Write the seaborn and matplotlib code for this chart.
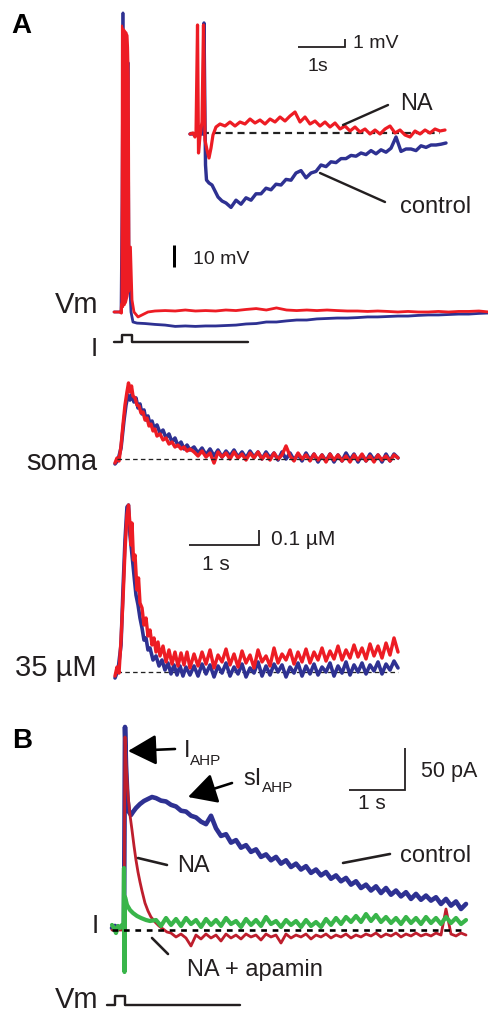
import numpy as np
import matplotlib
matplotlib.use("Agg")
import matplotlib.pyplot as plt
import seaborn as sns

# ------------------------------------------------------------------ data
# Panel A, somatic Vm (time s, mV relative to rest); fast part + slow tail
vm_na_fast_t = [-0.014, 0.071, 0.086, 0.092, 0.19, 0.198, 0.221, 0.243, 0.271, 0.329, 0.386, 0.471]
vm_na_fast_v = [-0.45, -0.45, -0.9, 3, 9, 9.5, 29.1, 5, -0.45, -2.7, -1.8, -0.45]
# burst of action potentials (NA): envelope of spike peaks and troughs
vm_na_burst_t = [0.086, 0.092, 0.1, 0.108, 0.116, 0.124, 0.132, 0.14, 0.148, 0.156, 0.164, 0.172, 0.18, 0.19, 0.198]
vm_na_burst_peak = [20, 130, 129, 128.6, 128.2, 128, 127.7, 127.3, 127, 126.8, 126, 125.5, 120, 105, 30]
vm_na_burst_trough = [-0.9, 2, 2, 2, 3, 3, 3, 4, 4, 5, 6, 7, 9, 9, 9.5]
vm_na_slow_v = [0, 0.2, 0, 0.45, 0, 0.2, 0, 0.45, 0.2, 0.7, 1.1, 0.45, 1.4, 0.45, 0.2, 0.45, 0.2,
                0.45, 0.2, 0, 0, -0.2, 0, -0.2, -0.45, -0.2, -0.45, -0.45, -0.2, -0.45, -0.2, -0.2, 0, -0.45]
vm_ctrl_fast_t = [-0.014, 0.086, 0.1, 0.114, 0.129, 0.15, 0.164, 0.186, 0.2, 0.214, 0.229, 0.257, 0.314, 0.429]
vm_ctrl_fast_v = [-0.45, -0.45, 50, 135.5, 50.5, 122, 41, 113, 23, 9.5, -0.5, -5, -5.5, -5.7]
vm_ctrl_slow_v = [-6.1, -6.4, -7.0, -6.8, -7.0, -6.8, -6.8, -6.6, -6.4, -5.9, -5.7, -5.0, -5.0, -4.5,
                  -4.1, -4.1, -3.6, -3.4, -3.2, -3.2, -3.0, -2.7, -2.7, -2.5, -2.3, -2.3, -2.0, -1.8,
                  -1.8, -1.6, -1.4, -1.4, -1.1, -0.9]
vm_slow_span = (0.571, 5.343)

# current step (A)
step_a_t = [-0.014, 0.1, 0.1, 0.243, 0.243, 1.9]
step_a_i = [0, 0, 1, 1, 0, 0]

# Inset (time s, mV)
ins_na_fast_t = [0, 0.064, 0.106, 0.128, 0.16, 0.181, 0.213, 0.255, 0.287, 0.319, 0.362, 0.404,
                 0.447, 0.489, 0.553, 0.638]
ins_na_fast_v = [-0.125, 0, -0.5, 0, 13.5, -2.5, -0.375, 1.375, 13.5, -0.875, -2.125, -3.125,
                 -1.875, -0.25, 0.75, 1.125]
ins_na_slow_v = [0.875, 1.375, 0.875, 1.375, 1.125, 1.75, 1.25, 1.625, 1.125, 1.75, 1.375, 2.0, 1.5,
                 2.125, 2.625, 1.375, 2.0, 1.125, 1.5, 0.875, 1.375, 0.75, 1.25, 0.5, 0.875, 0.25, 0.75,
                 0.125, 0.5, -0.125, 0.375, -0.125, 0.5, 0.875, 0, 0.375, -0.25, -0.5, 0.25, -0.125,
                 0.375, 0, 0.5, 0.25, 0.375]
ins_na_slow_span = (0.745, 5.426)
ins_ctrl_fast_t = [0, 0.213, 0.277, 0.298, 0.319, 0.33, 0.351, 0.404, 0.468, 0.532, 0.596, 0.681]
ins_ctrl_fast_v = [-0.125, -0.125, -0.125, 13.75, 1.625, -4, -5.875, -6.25, -6.5, -7.25, -8, -8.5]
ins_ctrl_slow_v = [-8.75, -9.3, -8.4, -8.9, -8.1, -8.4, -7.6, -7.6, -6.9, -7.1, -6.4, -6.5, -5.8, -5.9,
                   -5.0, -4.7, -5.6, -5.0, -4.8, -4.0, -4.2, -3.6, -3.7, -3.2, -3.2, -2.8, -2.9, -2.5,
                   -2.7, -2.2, -2.6, -2.1, -2.4, -1.9, -0.5, -2.3, -2.0, -2.0, -2.2, -1.6, -1.8, -1.5,
                   -1.5, -1.4, -1.25]
ins_ctrl_slow_span = (0.766, 5.447)

# Ca2+ transients (time s, delta uM)
soma_na_fast_t = [0, 0.029, 0.057, 0.086, 0.114, 0.143, 0.171, 0.193, 0.214, 0.236, 0.257, 0.286,
                  0.314, 0.343, 0.371, 0.4, 0.429, 0.457, 0.486, 0.514, 0.543, 0.571, 0.6, 0.643,
                  0.686, 0.729, 0.771, 0.814, 0.857, 0.9, 0.943, 0.986, 1.029, 1.071]
soma_na_fast_c = [-0.027, 0.007, -0.013, 0.087, 0.227, 0.36, 0.447, 0.507, 0.447, 0.487, 0.42, 0.407,
                  0.36, 0.353, 0.307, 0.313, 0.26, 0.273, 0.22, 0.233, 0.187, 0.2, 0.153, 0.167,
                  0.127, 0.14, 0.1, 0.113, 0.08, 0.093, 0.067, 0.08, 0.053, 0.067]
soma_na_slow_c = [0.047, 0.02, 0.053, 0.013, 0.04, -0.027, 0.047, 0.013, 0.04, 0, 0.047, 0.007, 0.033,
                  -0.007, 0.04, 0.007, 0.047, 0, 0.033, -0.007, 0.04, 0, 0.027, 0.087, 0.02, -0.013,
                  0.04, 0, 0.027, -0.013, 0.033, -0.007, 0.027, -0.02, 0.033, -0.007, 0.027, -0.013,
                  0.02, -0.02, 0.027, -0.007, 0.033, -0.013, 0.02, -0.02, 0.027, -0.007, 0.02, -0.013,
                  0.027, 0.007]
soma_ctrl_fast_t = [0, 0.043, 0.086, 0.129, 0.157, 0.186, 0.214, 0.243, 0.271, 0.3, 0.329, 0.357,
                    0.386, 0.414, 0.443, 0.471, 0.5, 0.529, 0.557, 0.6, 0.643, 0.686, 0.729, 0.771,
                    0.814, 0.857, 0.9, 0.943, 0.986, 1.029, 1.071]
soma_ctrl_fast_c = [-0.033, -0.007, 0.073, 0.26, 0.36, 0.427, 0.393, 0.433, 0.38, 0.407, 0.34, 0.367,
                    0.3, 0.327, 0.26, 0.287, 0.233, 0.253, 0.207, 0.227, 0.173, 0.193, 0.14, 0.167,
                    0.113, 0.14, 0.087, 0.113, 0.067, 0.093, 0.06]
soma_ctrl_slow_c = [0.08, 0.04, 0.073, 0.027, 0.067, 0.02, 0.06, 0.013, 0.053, 0.02, 0.06, 0.013,
                    0.047, 0.007, 0.053, 0.013, 0.047, 0, 0.047, 0.007, 0.04, -0.007, 0.047, 0, 0.04,
                    -0.007, 0.033, -0.013, 0.04, -0.007, 0.033, -0.02, 0.027, -0.013, 0.033, -0.02,
                    0.027, -0.013, 0.04, -0.007, 0.033, -0.02, 0.027, -0.013, 0.033, -0.007, 0.027,
                    -0.02, 0.033, -0.013, 0.033, 0.007]
d35_na_fast_t = [0, 0.029, 0.057, 0.086, 0.114, 0.143, 0.171, 0.193, 0.214, 0.229, 0.243, 0.264,
                 0.286, 0.314, 0.336, 0.357, 0.386, 0.414, 0.443, 0.471, 0.5, 0.529, 0.557, 0.586,
                 0.614, 0.643, 0.686, 0.729, 0.771, 0.814, 0.857, 0.9, 0.943, 0.986, 1.029, 1.071]
d35_na_fast_c = [-0.027, 0.033, -0.007, 0.213, 0.48, 0.813, 1.047, 1.113, 0.98, 0.847, 0.993, 0.747,
                 0.78, 0.547, 0.627, 0.46, 0.427, 0.313, 0.36, 0.24, 0.28, 0.18, 0.227, 0.133, 0.2,
                 0.107, 0.173, 0.067, 0.147, 0.053, 0.133, 0.04, 0.127, 0.047, 0.133, 0.027]
d35_na_slow_c = [0.12, 0.04, 0.133, 0.053, 0.147, 0.027, 0.113, 0.067, 0.153, 0.047, 0.12, 0.033,
                 0.14, 0.06, 0.113, 0.027, 0.147, 0.067, 0.107, 0.04, 0.16, 0.06, 0.12, 0.08, 0.147,
                 0.053, 0.133, 0.067, 0.153, 0.06, 0.133, 0.08, 0.16, 0.073, 0.14, 0.087, 0.173, 0.08,
                 0.147, 0.093, 0.18, 0.1, 0.16, 0.087, 0.187, 0.107, 0.173, 0.093, 0.193, 0.113,
                 0.227, 0.133]
d35_ctrl_fast_t = [0, 0.043, 0.086, 0.114, 0.143, 0.171, 0.193, 0.214, 0.243, 0.271, 0.3, 0.329,
                   0.357, 0.386, 0.414, 0.443, 0.471, 0.5, 0.543, 0.586, 0.629, 0.671, 0.714, 0.757,
                   0.8, 0.843, 0.886, 0.929, 0.971, 1.014, 1.071]
d35_ctrl_fast_c = [-0.04, 0.013, 0.18, 0.547, 0.88, 1.1, 1.113, 0.913, 0.78, 0.647, 0.513, 0.447,
                   0.36, 0.293, 0.213, 0.227, 0.147, 0.16, 0.08, 0.107, 0.04, 0.08, 0.013, 0.06,
                   -0.013, 0.047, -0.02, 0.04, -0.027, 0.033, -0.02]
d35_ctrl_slow_c = [0.04, -0.027, 0.053, -0.013, 0.047, -0.033, 0.04, -0.007, 0.06, -0.027, 0.033,
                   -0.013, 0.053, -0.033, 0.027, -0.007, 0.067, -0.027, 0.04, -0.02, 0.053, 0, 0.047,
                   -0.033, 0.033, -0.007, 0.06, -0.027, 0.04, -0.013, 0.053, -0.02, 0.033, 0, 0.06,
                   -0.027, 0.04, -0.007, 0.067, -0.02, 0.047, 0, 0.06, -0.013, 0.047, 0.007, 0.067,
                   -0.013, 0.053, 0.013, 0.073, 0.027]
ca_slow_span = (1.129, 4.043)

# Panel B, currents (time s, pA)
b_ctrl_fast_t = [-0.232, -0.179, -0.125, -0.071, -0.018, 0, 0.018, 0.045, 0.071, 0.107, 0.143,
                 0.196, 0.268, 0.339, 0.411, 0.482]
b_ctrl_fast_i = [2.4, 4.8, 1.2, 3.6, 2.4, 241.7, 196.4, 154.8, 140.5, 136.9, 140.5, 145.2, 150,
                 153.6, 156, 158.3]
b_ctrl_slow_i = [157, 154, 153, 149, 147, 142, 141, 136, 134, 129, 126, 136, 121, 112, 114, 104, 107,
                 98, 101, 93, 96, 87, 90, 83, 87, 79, 83, 75, 79, 72, 76, 68, 72, 65, 69, 61, 65, 58,
                 62, 54, 58, 50, 54, 47, 52, 44, 50, 42, 47, 40, 45, 37, 43, 36, 41, 35, 39, 31, 37,
                 29, 34, 25, 31]
b_ctrl_slow_span = (0.554, 6.089)
b_na_fast_t = [-0.232, -0.018, 0, 0.018, 0.036, 0.054, 0.089, 0.125, 0.161, 0.196, 0.232, 0.268,
               0.304, 0.357, 0.411, 0.464, 0.536, 0.607, 0.679, 0.75]
b_na_fast_i = [0, 0, 229.8, 200, 178.6, 160.7, 136.9, 119, 100, 83.3, 69, 57.1, 46.4, 32.1, 22.6,
               15.5, 9.5, 4.8, 1.2, -2.4]
b_na_slow_i = [-3.6, -8.3, -4.8, -9.5, -19.0, -6.0, -10.7, -4.8, -9.5, -6.0, -13.1, -4.8, -9.5, -6.0,
               -10.7, -4.8, -8.3, -6.0, -11.9, -4.8, -8.3, -6.0, -15.5, -4.8, -9.5, -6.0, -8.3, -4.8,
               -10.7, -6.0, -8.3, -4.8, -9.5, -6.0, -8.3, -4.8, -9.5, -6.0, -8.3, -4.8, -7.1, -3.6,
               -8.3, -4.8, -7.1, -3.6, -8.3, -4.8, -7.1, -3.6, -7.1, -4.8, -7.1, -3.6, -6.0, 25.0,
               -4.8, -7.1, -3.6, -6.0]
b_na_slow_span = (0.821, 6.089)
b_apa_fast_t = [-0.232, -0.196, -0.161, -0.125, -0.089, -0.054, -0.027, -0.018, -0.009, 0, 0.036,
                0.089, 0.143, 0.214, 0.286, 0.375, 0.446]
b_apa_fast_i = [6.0, 2.4, -3.6, 4.8, 2.4, 6.0, 4.8, 73.8, -50, 39.3, 29.8, 23.8, 20.2, 16.7, 14.3,
                11.9, 10.7]
b_apa_slow_i = [11.9, 4.8, 14.3, 6.0, 13.1, 4.8, 14.3, 7.1, 11.9, 3.6, 13.1, 6.0, 11.9, 4.8, 14.3,
                7.1, 10.7, 3.6, 13.1, 6.0, 11.9, 4.8, 15.5, 7.1, 10.7, 3.6, 11.9, 6.0, 10.7, 3.6, 11.9,
                4.8, 9.5, 3.6, 13.1, 6.0, 14.3, 7.1, 15.5, 9.5, 16.7, 9.5, 19.0, 10.7, 17.9, 9.5, 15.5,
                8.3, 14.3, 7.1, 15.5, 8.3, 14.3, 7.1, 15.5, 8.3, 14.3, 7.1, 15.5, 8.3, 14.3, 7.1, 11.9]
b_apa_slow_span = (0.554, 6.089)

# voltage step (B)
step_b_t = [-0.321, -0.179, -0.179, -0.0, -0.0, 2.054]
step_b_v = [0, 0, 1, 1, 0, 0]

# scale bars: (time, amplitude)
scale_vm = 10            # mV
scale_inset = (1, 1)     # s, mV
scale_ca = (1, 0.1)      # s, uM
scale_b = (1, 50)        # s, pA

# ------------------------------------------------------------------ style
sns.set_theme(style="white")
plt.rcParams['font.family'] = ['Liberation Sans', 'DejaVu Sans']
plt.rcParams['path.simplify'] = False
W, H = 489, 1014
BLUE, RED, DKRED, GREEN, INK = '#2e3192', '#ed1c24', '#be1e2d', '#39b54a', '#231f20'
PX = 0.72  # points per pixel

fig = plt.figure(figsize=(W / 100, H / 100), dpi=100)


def px_axes(x0, y0, x1, y1, ox, oy, sx, sy):
    ax = fig.add_axes([x0 / W, 1 - y1 / H, (x1 - x0) / W, (y1 - y0) / H])
    ax.set_xlim((x0 - ox) / sx, (x1 - ox) / sx)
    ax.set_ylim((oy - y1) / sy, (oy - y0) / sy)
    ax.set_axis_off()
    ax.patch.set_alpha(0)
    return ax


def trace(ax, ft, fv, span, sv, color, lw):
    t = np.concatenate([ft, np.linspace(span[0], span[1], len(sv))])
    v = np.concatenate([fv, sv])
    sns.lineplot(x=t, y=v, ax=ax, color=color, linewidth=lw * PX, estimator=None,
                 sort=False, legend=False)
    ax.lines[-1].set_clip_on(False)
    ax.lines[-1].set_solid_joinstyle('round')
    return t


def step(ax, t, v, lw=2.4):
    sns.lineplot(x=t, y=v, ax=ax, color=INK, linewidth=lw * PX, estimator=None, sort=False,
                 legend=False)
    ax.lines[-1].set_clip_on(False)


def bar(ax, x, y, dx, dy, lw=1.8):
    ax.plot([x, x + dx, x + dx], [y, y, y + dy], color=INK, lw=lw * PX, clip_on=False,
            solid_capstyle='butt', solid_joinstyle='miter')


def ftext(x, y, s, **kw):
    kw.setdefault('color', INK)
    fig.text(x / W, 1 - y / H, s, **kw)


# ------------------------------------------------------------------ panel A: Vm
ax_vm = px_axes(100, 0, 489, 360, 115, 311, 70, 2.2)
trace(ax_vm, vm_ctrl_fast_t, vm_ctrl_fast_v, vm_slow_span, vm_ctrl_slow_v, BLUE, 2.8)
trace(ax_vm, vm_na_fast_t, vm_na_fast_v, vm_slow_span, vm_na_slow_v, RED, 2.8)
ax_vm.fill_between(vm_na_burst_t, vm_na_burst_trough, vm_na_burst_peak, color=RED, lw=2.0 * PX,
                   edgecolor=RED, zorder=3, clip_on=False)
ax_vm.plot([0.843, 0.843], [20, 20 + scale_vm], color='black', lw=3 * PX, solid_capstyle='butt')
ax_vm.text(1.114, 21.4, '10 mV', fontsize=14, color=INK, va='baseline', ha='left')

ax_ia = px_axes(100, 325, 260, 352, 115, 342, 70, 7)
step(ax_ia, step_a_t, step_a_i)

# inset
ax_in = px_axes(185, 0, 489, 230, 190, 133, 47, 8)
tin = trace(ax_in, ins_ctrl_fast_t, ins_ctrl_fast_v, ins_ctrl_slow_span, ins_ctrl_slow_v, BLUE, 3.4)
trace(ax_in, ins_na_fast_t, ins_na_fast_v, ins_na_slow_span, ins_na_slow_v, RED, 3.2)
ax_in.hlines(0, tin.min(), 5.32, colors='#222222', linestyles=(0, (3.2, 2.2)), lw=2.2 * PX, zorder=1.5)
bar(ax_in, 2.298, 10.75, scale_inset[0], scale_inset[1])
ax_in.text(3.468, 10.6, f'{scale_inset[1]} mV', fontsize=14, color=INK, va='baseline', ha='left')
ax_in.text(2.723, 7.75, f'{scale_inset[0]}s', fontsize=14, color=INK, va='baseline', ha='center')
ax_in.plot([3.255, 4.213], [1.0, 3.5], color=INK, lw=2.4 * PX)
ax_in.plot([2.766, 4.149], [-5.0, -8.625], color=INK, lw=2.4 * PX)
ax_in.text(4.468, 2.9, 'NA', fontsize=17, color=INK, va='baseline', ha='left')
ax_in.text(4.468, -10.0, 'control', fontsize=17, color=INK, va='baseline', ha='left')

ftext(11, 33, 'A', fontsize=20, fontweight='bold', color='black', va='baseline', ha='left')
ftext(98, 313, 'Vm', fontsize=21, va='baseline', ha='right')
ftext(94, 356, 'I', fontsize=19, va='baseline', ha='center')

# ------------------------------------------------------------------ Ca transients
ax_so = px_axes(100, 370, 420, 480, 115, 459, 70, 150)
ts = trace(ax_so, soma_ctrl_fast_t, soma_ctrl_fast_c, ca_slow_span, soma_ctrl_slow_c, BLUE, 3.6)
trace(ax_so, soma_na_fast_t, soma_na_fast_c, ca_slow_span, soma_na_slow_c, RED, 3.4)
ax_so.hlines(0, 0.03, ts.max(), colors='#222222', linestyles=(0, (3.5, 2.5)), lw=1.3 * PX, zorder=5)
ftext(97, 470, 'soma', fontsize=21, va='baseline', ha='right')

ax_d = px_axes(100, 490, 420, 690, 115, 672, 70, 150)
td = trace(ax_d, d35_ctrl_fast_t, d35_ctrl_fast_c, ca_slow_span, d35_ctrl_slow_c, BLUE, 3.6)
trace(ax_d, d35_na_fast_t, d35_na_fast_c, ca_slow_span, d35_na_slow_c, RED, 3.4)
ax_d.hlines(0, 0.03, td.max(), colors='#222222', linestyles=(0, (3.5, 2.5)), lw=1.3 * PX, zorder=1.5)
bar(ax_d, 1.057, 0.847, scale_ca[0], scale_ca[1])
ax_d.text(2.229, 0.847, f'{scale_ca[1]} \u00b5M', fontsize=15, color=INK, va='baseline', ha='left')
ax_d.text(1.443, 0.68, f'{scale_ca[0]} s', fontsize=15, color=INK, va='baseline', ha='center')
ftext(97, 676, '35 \u00b5M', fontsize=21, va='baseline', ha='right')

# ------------------------------------------------------------------ panel B
ax_b = px_axes(100, 700, 489, 985, 125, 930, 56, 0.84)
tb = trace(ax_b, b_ctrl_fast_t, b_ctrl_fast_i, b_ctrl_slow_span, b_ctrl_slow_i, BLUE, 4.6)
trace(ax_b, b_na_fast_t, b_na_fast_i, b_na_slow_span, b_na_slow_i, DKRED, 2.8)
trace(ax_b, b_apa_fast_t, b_apa_fast_i, b_apa_slow_span, b_apa_slow_i, GREEN, 4.2)
ax_b.hlines(0, tb.min(), tb.max(), colors='black', linestyles=(0, (2.2, 2.2)), lw=2.6 * PX, zorder=5)
bar(ax_b, 4.0, 166.7, scale_b[0], scale_b[1])
ax_b.text(5.286, 182.1, f'{scale_b[1]} pA', fontsize=15.5, color=INK, va='baseline', ha='left')
ax_b.text(4.41, 144, f'{scale_b[0]} s', fontsize=15, color=INK, va='baseline', ha='center')

arrow = dict(arrowstyle='-|>,head_length=1.4,head_width=0.75', mutation_scale=12.5,
             color='black', lw=2.6 * PX, shrinkA=0, shrinkB=0)
ax_b.annotate('', xy=(0.054, 213.1), xytext=(0.893, 215.5), arrowprops=arrow)
ax_b.annotate('', xy=(1.125, 158.3), xytext=(1.911, 175.0), arrowprops=arrow)
ax_b.text(1.054, 206, 'I', fontsize=17, color=INK, va='baseline', ha='left')
ax_b.text(1.161, 196.4, 'AHP', fontsize=11, color=INK, va='baseline', ha='left')
ax_b.text(2.107, 172.6, 'sI', fontsize=17, color=INK, va='baseline', ha='left')
ax_b.text(2.446, 164.3, 'AHP', fontsize=11, color=INK, va='baseline', ha='left')

ax_b.plot([0.232, 0.75], [85.7, 77.4], color=INK, lw=2.6 * PX)
ax_b.text(0.929, 69, 'NA', fontsize=17, color=INK, va='baseline', ha='left')
ax_b.plot([3.893, 4.732], [79.8, 90.5], color=INK, lw=2.6 * PX)
ax_b.text(4.911, 81, 'control', fontsize=17, color=INK, va='baseline', ha='left')
ax_b.plot([0.482, 0.768], [-9.5, -28.6], color=INK, lw=2.6 * PX)
ax_b.text(1.107, -54.8, 'NA + apamin', fontsize=17, color=INK, va='baseline', ha='left')

ax_vb = px_axes(100, 985, 260, 1013, 125, 1005, 56, 9)
step(ax_vb, step_b_t, step_b_v)

ftext(12, 748, 'B', fontsize=20, fontweight='bold', color='black', va='baseline', ha='left')
ftext(95, 933, 'I', fontsize=19, va='baseline', ha='center')
ftext(98, 1008, 'Vm', fontsize=21, va='baseline', ha='right')

fig.savefig('out.png', dpi=100)
